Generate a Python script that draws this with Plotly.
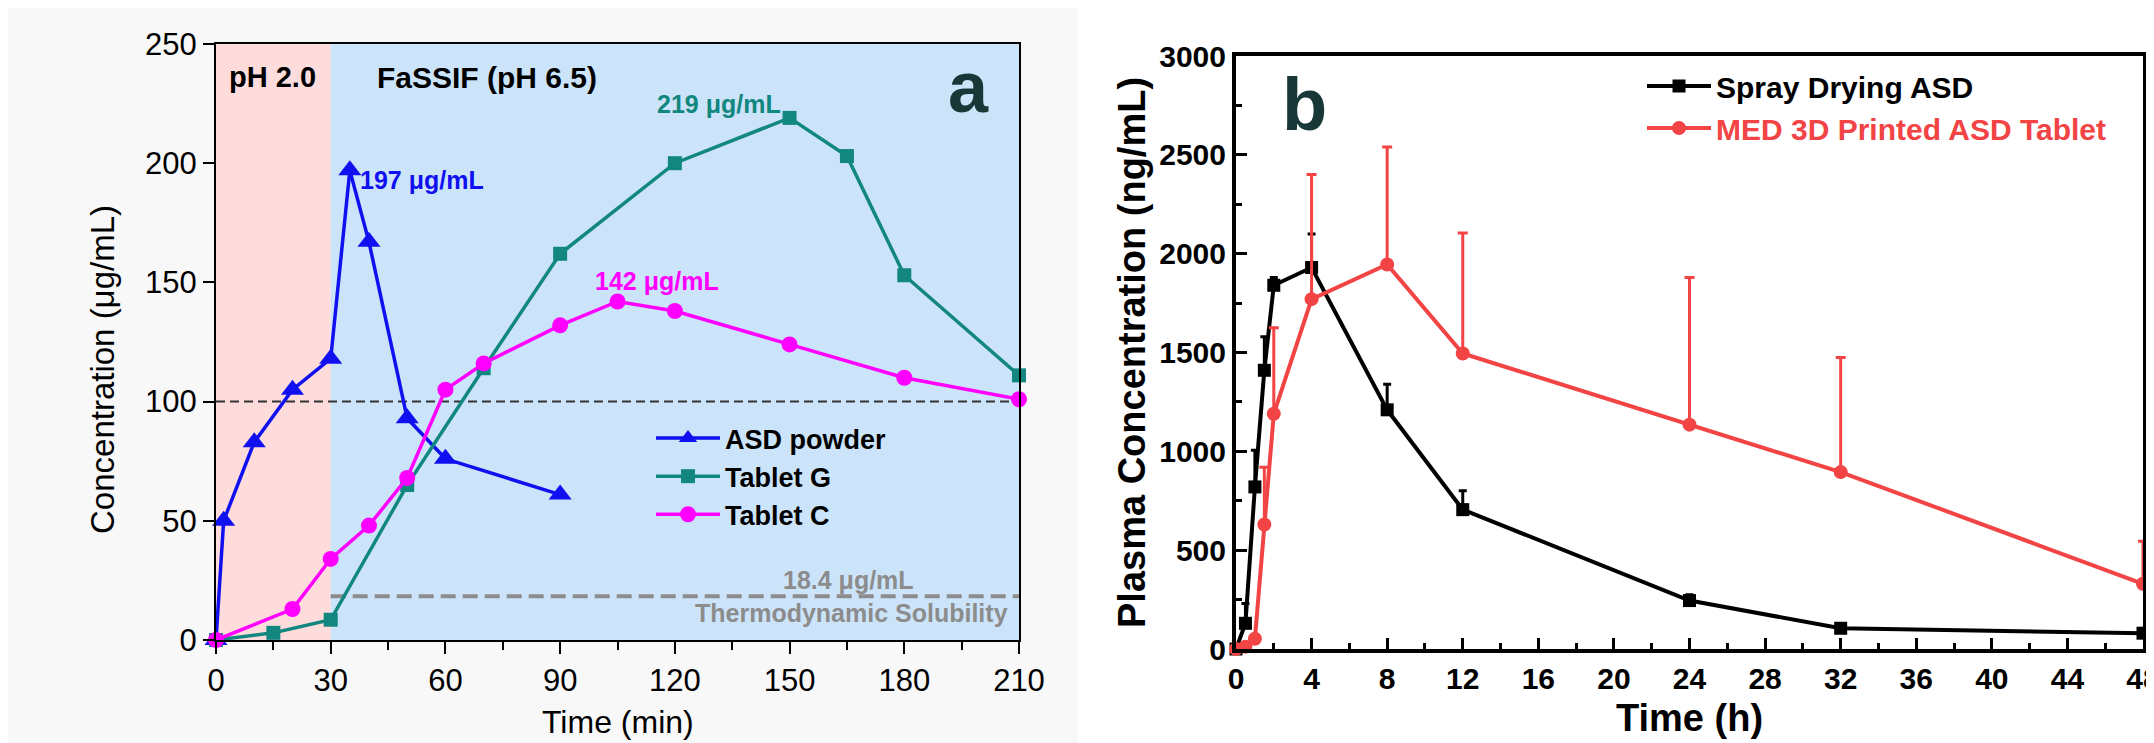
import plotly.graph_objects as go

# ---------------- data: panel a (dissolution) ----------------
t_asd = [0, 2, 10, 20, 30, 35, 40, 50, 60, 90]
c_asd = [0, 50, 83, 105, 118, 197, 167, 93, 76, 61]

t_tabg = [0, 15, 30, 50, 70, 90, 120, 150, 165, 180, 210]
c_tabg = [0, 3, 8.5, 65, 114, 162, 200, 219, 203, 153, 111]

t_tabc = [0, 20, 30, 40, 50, 60, 70, 90, 105, 120, 150, 180, 210]
c_tabc = [0, 13, 34, 48, 68, 105, 116, 132, 142, 138, 124, 110, 101]

names_a = ["ASD powder", "Tablet G", "Tablet C"]
ref_line = 100
solubility = 18.4
x_ticks_a = [0, 30, 60, 90, 120, 150, 180, 210]
y_ticks_a = [0, 50, 100, 150, 200, 250]

# ---------------- data: panel b (plasma PK) ----------------
t_sd = [0, 0.5, 1, 1.5, 2, 4, 8, 12, 24, 32, 48]
c_sd = [0, 130, 820, 1410, 1840, 1930, 1210, 705, 245, 105, 80]
e_sd = [0, 100, 185, 170, 40, 170, 130, 95, 30, 20, 15]

t_med = [0, 0.5, 1, 1.5, 2, 4, 8, 12, 24, 32, 48]
c_med = [0, 12, 52, 630, 1190, 1770, 1945, 1495, 1135, 895, 330]
e_med = [0, 5, 15, 290, 435, 630, 595, 610, 745, 580, 215]

names_b = ["Spray Drying ASD", "MED 3D Printed ASD Tablet"]
x_ticks_b = [0, 4, 8, 12, 16, 20, 24, 28, 32, 36, 40, 44, 48]
y_ticks_b = [0, 500, 1000, 1500, 2000, 2500, 3000]

# ---------------- layout helpers ----------------
# the page body adds an 8 px margin; positions are given in window pixels
# and converted to figure-relative fractions (the figure runs past the
# right edge of the window, so the last tick label is cut as in the original)
OFF = 8
W, H = 2154, 743 - OFF
def px(x):
    return (x - OFF) / W
def py(y):
    return (H - (y - OFF)) / H

FONT = "Liberation Sans, Arial, Helvetica, sans-serif"
BLUE = "#1010f0"
TEAL = "#11877f"
MAG = "#ff00ff"
RED = "#f24444"
DARK = "#183838"
GRAY = "#8c8c8c"

fig = go.Figure()

# panel a traces
fig.add_trace(go.Scatter(x=t_asd, y=c_asd, name=names_a[0], mode="lines+markers",
                         line=dict(color=BLUE, width=3.5),
                         marker=dict(symbol="triangle-up", size=20, color=BLUE),
                         xaxis="x", yaxis="y", legend="legend", cliponaxis=False))
fig.add_trace(go.Scatter(x=t_tabg, y=c_tabg, name=names_a[1], mode="lines+markers",
                         line=dict(color=TEAL, width=3.5),
                         marker=dict(symbol="square", size=14, color=TEAL),
                         xaxis="x", yaxis="y", legend="legend", cliponaxis=False))
fig.add_trace(go.Scatter(x=t_tabc, y=c_tabc, name=names_a[2], mode="lines+markers",
                         line=dict(color=MAG, width=3.5),
                         marker=dict(symbol="circle", size=16, color=MAG),
                         xaxis="x", yaxis="y", legend="legend", cliponaxis=False))

# panel b traces
fig.add_trace(go.Scatter(x=t_sd, y=c_sd, name=names_b[0], mode="lines+markers",
                         line=dict(color="black", width=4),
                         marker=dict(symbol="square", size=13, color="black"),
                         error_y=dict(type="data", array=e_sd, arrayminus=[0] * len(e_sd),
                                      symmetric=False, color="black", thickness=3, width=4),
                         xaxis="x2", yaxis="y2", legend="legend2", cliponaxis=False))
fig.add_trace(go.Scatter(x=t_med, y=c_med,
                         name='<span style="color:%s">%s</span>' % (RED, names_b[1]),
                         mode="lines+markers",
                         line=dict(color=RED, width=4),
                         marker=dict(symbol="circle", size=14, color=RED),
                         error_y=dict(type="data", array=e_med, arrayminus=[0] * len(e_med),
                                      symmetric=False, color=RED, thickness=3, width=5),
                         xaxis="x2", yaxis="y2", legend="legend2", cliponaxis=False))

shapes = [
    dict(type="rect", xref="paper", yref="paper", x0=0, x1=px(1078), y0=0, y1=1,
         fillcolor="#f8f8f8", line=dict(width=0), layer="below"),
    dict(type="rect", xref="x", yref="y", x0=0, x1=30, y0=0, y1=250,
         fillcolor="#fddcdb", line=dict(width=0), layer="below"),
    dict(type="rect", xref="x", yref="y", x0=30, x1=210, y0=0, y1=250,
         fillcolor="#cce4fa", line=dict(width=0), layer="below"),
    dict(type="line", xref="x", yref="y", x0=0, x1=210, y0=ref_line, y1=ref_line,
         line=dict(color="#333333", width=2, dash="9px,5px"), layer="below"),
    dict(type="line", xref="x", yref="y", x0=30, x1=210, y0=solubility, y1=solubility,
         line=dict(color=GRAY, width=4, dash="15px,7px"), layer="below"),
]

ann = []
def A(text, x, y, size, color="black", bold=False, xanchor="center", xref="x", yref="y", angle=0):
    t = "<b>%s</b>" % text if bold else text
    ann.append(dict(text=t, x=x, y=y, xref=xref, yref=yref, showarrow=False,
                    xanchor=xanchor, yanchor="middle", textangle=angle,
                    font=dict(family=FONT, size=size, color=color)))

# panel a annotations
A("pH 2.0", 14.9, 236, 29, bold=True)
A("FaSSIF (pH 6.5)", 71, 236, 30, bold=True)
A("197 μg/mL", 37.1, 193, 25, color=BLUE, bold=True, xanchor="left")
A("219 μg/mL", 131.5, 225, 25, color=TEAL, bold=True)
A("142 μg/mL", 115.3, 150.6, 25, color=MAG, bold=True)
A("18.4 μg/mL", 165.3, 25.2, 25, color=GRAY, bold=True)
A("Thermodynamic Solubility", 166.3, 11.3, 25, color=GRAY, bold=True)
A("a", px(968), py(87), 72, color=DARK, bold=True, xref="paper", yref="paper")
A("Concentration (μg/mL)", px(103), py(370), 33, xref="paper", yref="paper", angle=-90)
A("Time (min)", px(618), py(722), 32, xref="paper", yref="paper")
# panel b annotations
A("b", px(1304), py(104), 74, color=DARK, bold=True, xref="paper", yref="paper")
A("Plasma Concentration (ng/mL)", px(1132), py(353), 38, bold=True, xref="paper", yref="paper", angle=-90)
A("Time (h)", px(1689), py(718), 38, bold=True, xref="paper", yref="paper")

common = dict(showgrid=False, zeroline=False, showline=True, linecolor="black",
              mirror=True, tickcolor="black", automargin=False)

fig.update_layout(
    template="none",
    width=W, height=H, autosize=False,
    margin=dict(l=0, r=0, t=0, b=0, pad=0),
    paper_bgcolor="white", plot_bgcolor="rgba(0,0,0,0)",
    font=dict(family=FONT, color="black"),
    shapes=shapes, annotations=ann,
    xaxis=dict(domain=[px(216), px(1019)], range=[0, 210], tickvals=x_ticks_a,
               linewidth=2, ticks="outside", ticklen=12, tickwidth=2,
               minor=dict(dtick=15, ticks="outside", ticklen=8, tickwidth=2, tickcolor="black"),
               tickfont=dict(family=FONT, size=31), anchor="y", **common),
    yaxis=dict(domain=[py(640), py(44)], range=[0, 250], tickvals=y_ticks_a,
               linewidth=2, ticks="outside", ticklen=11, tickwidth=2,
               tickfont=dict(family=FONT, size=31), anchor="x", **common),
    xaxis2=dict(domain=[px(1236), px(2143)], range=[0, 48], tickvals=x_ticks_b,
                linewidth=4, ticks="inside", ticklen=11, tickwidth=3,
                minor=dict(dtick=2, ticks="inside", ticklen=6, tickwidth=3, tickcolor="black"),
                tickfont=dict(family=FONT, size=30, weight="bold"), anchor="y2",
                ticklabeloverflow="allow", **common),
    yaxis2=dict(domain=[py(649), py(56)], range=[0, 3000], tickvals=y_ticks_b,
                linewidth=4, ticks="inside", ticklen=11, tickwidth=3,
                minor=dict(dtick=250, ticks="inside", ticklen=6, tickwidth=3, tickcolor="black"),
                tickfont=dict(family=FONT, size=30, weight="bold"), anchor="x2", **common),
    legend=dict(x=px(651), y=py(414), xanchor="left", yanchor="top",
                bgcolor="rgba(0,0,0,0)", borderwidth=0, itemwidth=64,
                font=dict(family=FONT, size=27, color="black", weight="bold"),
                tracegroupgap=0),
    legend2=dict(x=px(1642), y=py(60), xanchor="left", yanchor="top",
                 bgcolor="rgba(0,0,0,0)", borderwidth=0, itemwidth=64,
                 font=dict(family=FONT, size=30, color="black", weight="bold"),
                 tracegroupgap=0),
    showlegend=True,
)

fig.write_html("out.html")
